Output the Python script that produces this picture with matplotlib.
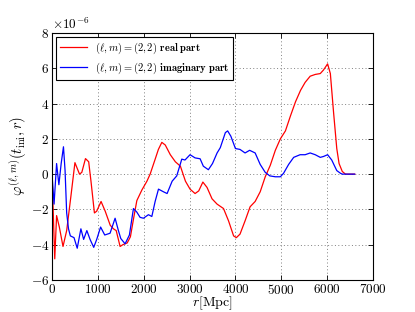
import matplotlib
matplotlib.use("Agg")
import matplotlib.pyplot as plt
import numpy as np

SCALE = 1e-6

r_real = [0, 60, 100, 160, 240, 320, 410, 500, 600, 650, 730, 800, 850, 925, 975,
          1070, 1160, 1270, 1340, 1400, 1485, 1545, 1640, 1710, 1780, 1850, 1960,
          2070, 2140, 2250, 2320, 2395, 2470, 2580, 2690, 2800, 2910, 3010, 3120,
          3200, 3290, 3380, 3490, 3600, 3740, 3850, 3960, 4020, 4100, 4210, 4320,
          4430, 4540, 4650, 4760, 4870, 4980, 5090, 5200, 5310, 5420, 5520, 5630,
          5740, 5850, 5920, 6010, 6070, 6140, 6210, 6260, 6330, 6400, 6600]
phi_real = [0, -4.8, -2.35, -3.0, -4.1, -3.2, -1.3, 0.65, 0.0, 0.1, 0.88, 0.7, -0.4,
            -2.2, -2.1, -1.55, -2.1, -2.9, -3.1, -3.2, -4.1, -4.0, -3.9, -3.55, -2.5,
            -1.5, -0.9, -0.4, 0.0, 0.85, 1.4, 1.8, 1.65, 1.1, 0.7, 0.45, -0.4, -0.85,
            -1.1, -0.95, -0.45, -0.75, -1.4, -1.7, -1.95, -2.65, -3.5, -3.6, -3.4,
            -2.65, -1.85, -1.55, -1.0, -0.15, 0.5, 1.35, 2.0, 2.45, 3.3, 4.1, 4.75,
            5.2, 5.55, 5.65, 5.7, 5.9, 6.25, 5.7, 3.5, 1.45, 0.6, 0.15, 0.0, 0.0]

r_imag = [0, 45, 100, 150, 200, 250, 285, 320, 360, 400, 480, 550, 630, 690, 760,
          830, 910, 975, 1060, 1150, 1266, 1376, 1448, 1500, 1594, 1688, 1776, 1849,
          1921, 1994, 2103, 2177, 2249, 2322, 2430, 2510, 2620, 2720, 2830, 2900,
          3010, 3120, 3230, 3300, 3410, 3500, 3600, 3670, 3780, 3830, 3900, 4000,
          4100, 4210, 4310, 4430, 4540, 4650, 4750, 4870, 4980, 5050, 5160, 5270,
          5410, 5520, 5630, 5740, 5850, 5920, 6010, 6100, 6210, 6290, 6330, 6600]
phi_imag = [0, -1.7, 0.6, -0.6, 0.6, 1.55, 0.2, -2.2, -3.1, -3.5, -3.6, -4.2, -3.1,
            -3.7, -3.2, -3.7, -4.15, -3.7, -3.0, -3.45, -3.35, -2.5, -3.2, -3.65,
            -3.95, -3.45, -1.95, -2.15, -2.45, -2.5, -2.3, -2.4, -1.55, -0.85, -1.0,
            -1.1, -0.4, -0.1, 0.85, 0.8, 1.1, 0.92, 0.87, 0.45, 0.25, 0.6, 1.2, 1.5,
            2.35, 2.45, 2.15, 1.45, 1.4, 1.2, 1.35, 1.2, 0.55, 0.1, -0.1, -0.15, -0.15,
            0.05, 0.55, 0.95, 1.1, 1.1, 1.2, 1.1, 0.95, 1.0, 1.1, 0.8, 0.2, 0.05, 0.0,
            0.0]

label_real = r'$(\ell,m)=(2,2)$ $\mathbf{real\ part}$'
label_imag = r'$(\ell,m)=(2,2)$ $\mathbf{imaginary\ part}$'

plt.rcParams['font.family'] = 'cmr10'
plt.rcParams['mathtext.fontset'] = 'cm'
plt.rcParams['axes.formatter.use_mathtext'] = True
plt.rcParams['axes.unicode_minus'] = True

fig = plt.figure(figsize=(4.15, 3.12), dpi=100)
ax = fig.add_axes([0.1253, 0.1026, 0.7735, 0.7917])

ax.plot(r_real, np.array(phi_real) * SCALE, color='red', lw=0.9, label=label_real)
ax.plot(r_imag, np.array(phi_imag) * SCALE, color='blue', lw=0.9, label=label_imag)

ax.set_xlim(0, 7000)
ax.set_ylim(-6e-6, 8e-6)
ax.set_xticks(np.arange(0, 7001, 1000))
ax.set_yticks(np.arange(-6, 8.1, 2) * SCALE)
ax.tick_params(direction='in', top=True, right=True, labelsize=9.5, length=3.5, width=0.6, pad=2)
ax.grid(True, linestyle=(0, (1, 2.5)), color='0.5', linewidth=0.7)
for s in ax.spines.values():
    s.set_linewidth(0.8)
ax.yaxis.get_offset_text().set_fontsize(9.5)

ax.set_xlabel(r'$r[\mathrm{Mpc}]$', fontsize=10, labelpad=-1.5)
ax.set_ylabel(r'$\varphi^{(\ell,m)}(t_{\rm ini},r)$', fontsize=10.5, labelpad=1)

leg = ax.legend(loc='upper left', fontsize=7.5, fancybox=False, framealpha=1,
                edgecolor='black', handlelength=2.6, borderaxespad=0.35,
                labelspacing=0.45)
leg.get_frame().set_linewidth(0.8)

fig.savefig('out.png', dpi=100)
